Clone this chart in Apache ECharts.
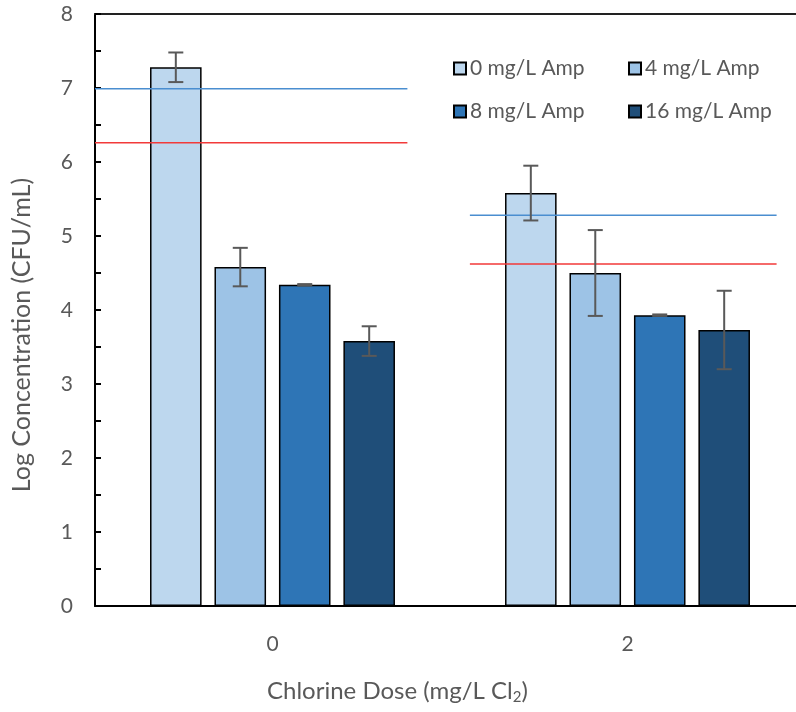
<!DOCTYPE html>
<html>
<head>
<meta charset="utf-8">
<script src="https://cdn.jsdelivr.net/npm/echarts@6/dist/echarts.min.js"></script>
<style>
  html, body { margin: 0; padding: 0; background: #fff; }
  #chart { width: 796px; height: 712px; }
</style>
</head>
<body>
<div id="chart"></div>
<script>
// chlorine dose groups
var doses = ['0', '2'];
var seriesNames = ['0 mg/L Amp', '4 mg/L Amp', '8 mg/L Amp', '16 mg/L Amp'];
var colors = ['#BDD7EE', '#9DC3E6', '#2E75B6', '#1F4E79'];

// log concentration per ampicillin level, one value per dose
var amp0 = [7.28, 5.58];
var amp4 = [4.58, 4.50];
var amp8 = [4.34, 3.93];
var amp16 = [3.58, 3.73];
var means = [amp0, amp4, amp8, amp16];

// error bar half-widths
var err0 = [0.20, 0.37];
var err4 = [0.26, 0.58];
var err8 = [0.01, 0.01];
var err16 = [0.20, 0.53];
var errs = [err0, err4, err8, err16];

// reference lines (x in group units: 0 = first dose, 1 = second dose)
var blueRef = [[-0.5, 6.99], [0.38, 6.99], null, [0.556, 5.28], [1.42, 5.28]];
var redRef = [[-0.5, 6.26], [0.38, 6.26], null, [0.556, 4.62], [1.42, 4.62]];

var yTicks = [0, 1, 2, 3, 4, 5, 6, 7, 8];

var catGap = 0.31, barGapRatio = 0.25;
var font = 'Lato';
var grey = '#595959';

var errData = [];
means.forEach(function (arr, s) {
  arr.forEach(function (v, c) { errData.push([c, s, v, errs[s][c]]); });
});

var chart = echarts.init(document.getElementById('chart'));

var series = seriesNames.map(function (name, i) {
  return {
    name: name,
    type: 'bar',
    xAxisIndex: 0,
    data: means[i],
    barGap: '25%',
    barCategoryGap: '31%',
    itemStyle: { color: colors[i], borderColor: '#000', borderWidth: 1.5 },
    z: 2
  };
});

series.push({
  type: 'custom',
  xAxisIndex: 0,
  data: errData,
  z: 5,
  silent: true,
  renderItem: function (params, api) {
    var c = api.value(0), s = api.value(1), m = api.value(2), e = api.value(3);
    var band = api.size([1, 0])[0];
    var bw = band * (1 - catGap) / (4 + 3 * barGapRatio);
    var total = bw * 4 + bw * barGapRatio * 3;
    var off = -total / 2 + s * bw * (1 + barGapRatio) + bw / 2;
    var top = api.coord([c, m + e]);
    var bot = api.coord([c, m - e]);
    var x = top[0] + off;
    var cap = 7.5;
    var st = { stroke: '#595959', lineWidth: 2 };
    return {
      type: 'group',
      children: [
        { type: 'line', shape: { x1: x, y1: top[1], x2: x, y2: bot[1] }, style: st },
        { type: 'line', shape: { x1: x - cap, y1: top[1], x2: x + cap, y2: top[1] }, style: st },
        { type: 'line', shape: { x1: x - cap, y1: bot[1], x2: x + cap, y2: bot[1] }, style: st }
      ]
    };
  }
});

series.push({
  type: 'line', xAxisIndex: 1, data: blueRef, symbol: 'none', connectNulls: false,
  lineStyle: { color: '#4A8ED0', width: 1.5 }, z: 4, silent: true
});
series.push({
  type: 'line', xAxisIndex: 1, data: redRef, symbol: 'none', connectNulls: false,
  lineStyle: { color: '#F23A3A', width: 1.5 }, z: 4, silent: true
});

var legendCommon = {
  orient: 'vertical',
  itemWidth: 12,
  itemHeight: 12,
  itemGap: 22,
  icon: 'rect',
  selectedMode: false,
  textStyle: { fontFamily: font, fontSize: 21, color: grey, padding: [0, 0, 0, -1] }
};

var option = {
  animation: false,
  backgroundColor: '#fff',
  grid: { left: 95, top: 14, width: 710, bottom: 106, outerBoundsMode: 'none', containLabel: false },
  legend: [
    Object.assign({ left: 448, top: 53, data: [seriesNames[0], seriesNames[2]] }, legendCommon),
    Object.assign({ left: 623, top: 53, data: [seriesNames[1], seriesNames[3]] }, legendCommon)
  ],
  title: {
    text: 'Chlorine Dose (mg/L Cl{sub|2})',
    left: 262,
    top: 673,
    textStyle: {
      fontFamily: font, fontSize: 24, fontWeight: 'normal', color: grey,
      rich: { sub: { fontFamily: font, fontSize: 15, color: grey, verticalAlign: 'bottom', padding: [12, 0, 0, 0] } }
    }
  },
  graphic: [{
    type: 'text',
    x: 22, y: 335,
    rotation: Math.PI / 2,
    style: {
      text: 'Log Concentration (CFU/mL)',
      fontFamily: font, fontSize: 25, fill: grey,
      align: 'center', verticalAlign: 'middle'
    }
  }],
  xAxis: [{
    type: 'category',
    data: doses,
    position: 'bottom',
    axisLine: { lineStyle: { color: '#000', width: 2 } },
    axisTick: { show: false },
    axisLabel: { fontFamily: font, fontSize: 21, color: grey, margin: 28 }
  }, {
    type: 'value',
    min: -0.5, max: 1.5,
    position: 'top',
    axisLine: { show: true, onZero: false, lineStyle: { color: '#222', width: 2 } },
    axisTick: { show: false },
    axisLabel: { show: false },
    splitLine: { show: false }
  }],
  yAxis: {
    type: 'value',
    min: yTicks[0], max: yTicks[yTicks.length - 1], interval: 1,
    axisLine: { show: true, onZero: false, lineStyle: { color: '#000', width: 2 } },
    axisTick: { show: true, inside: true, length: 6, lineStyle: { color: '#000', width: 2 } },
    minorTick: { show: true, splitNumber: 2, length: 6, lineStyle: { color: '#000', width: 2 } },
    axisLabel: { fontFamily: font, fontSize: 21, color: grey, margin: 22 },
    splitLine: { show: false }
  },
  series: series
};

chart.setOption(option);
</script>
</body>
</html>
